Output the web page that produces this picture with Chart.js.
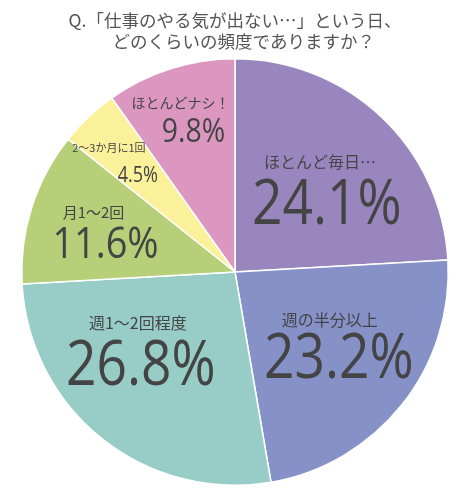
<!DOCTYPE html>
<html>
<head>
<meta charset="utf-8">
<script src="https://cdn.jsdelivr.net/npm/chart.js@4.4.1/dist/chart.umd.min.js"></script>
<style>
  html, body { margin: 0; padding: 0; background: #fff; }
  #wrap { width: 473px; height: 500px; }
</style>
</head>
<body>
<div id="wrap"><canvas id="myChart" width="473" height="500"></canvas></div>
<script>
// answers, clockwise from 12 o'clock
const categories = [
    'ほとんど毎日…',
    '週の半分以上',
    '週1～2回程度',
    '月1～2回',
    '2～3か月に1回',
    'ほとんどナシ！'
];
const shares = [24.1, 23.2, 26.8, 11.6, 4.5, 9.8];
const titleLines = ['Q.「仕事のやる気が出ない…」という日、', '　どのくらいの頻度でありますか？'];

const sliceColors = [
    '#9a86bf',  // purple
    '#8692c7',  // blue
    '#97ccc7',  // teal
    '#b6cf78',  // green
    '#fbf19b',  // yellow
    '#dc97c1'   // pink
];

// where each label sits inside its slice: angle shift (deg) from the slice middle,
// distance as a fraction of the radius, sizes of the two text lines,
// and how far the small caption is pulled left of the big number
const labelLayout = [
    { da: 11,  r: 0.53, name: 16, pct: 62, gap: 44, dx: -7 },
    { da: 2,   r: 0.64, name: 16, pct: 62, gap: 41, dx: -9 },
    { da: 6,   r: 0.63, name: 16, pct: 62, gap: 45, dx: -3 },
    { da: -6,  r: 0.62, name: 15, pct: 44, gap: 33, dx: -12 },
    { da: -2,  r: 0.64, name: 11, pct: 21, gap: 28, dx: -29 },
    { da: 1,   r: 0.68, name: 14, pct: 33, gap: 30, dx: -13 }
];

const sliceLabels = {
    id: 'sliceLabels',
    afterDatasetsDraw(chart) {
        const c = chart.ctx;
        const arcs = chart.getDatasetMeta(0).data;
        c.save();
        c.fillStyle = '#444444';
        c.textAlign = 'center';
        c.textBaseline = 'middle';
        arcs.forEach((arc, i) => {
            const lay = labelLayout[i];
            const mid = (arc.startAngle + arc.endAngle) / 2 + lay.da * Math.PI / 180;
            const x = arc.x + Math.cos(mid) * arc.outerRadius * lay.r;
            const y = arc.y + Math.sin(mid) * arc.outerRadius * lay.r;

            c.font = lay.name + 'px "Noto Sans CJK JP"';
            c.fillText(categories[i], x + lay.dx, y - lay.gap);

            c.save();
            c.translate(x, y);
            c.scale(0.86, 1);
            c.font = '500 ' + lay.pct + 'px "Open Sans"';
            c.fillText(shares[i].toFixed(1) + '%', 0, 0);
            c.restore();
        });
        c.restore();
    }
};

const ctx = document.getElementById('myChart');

const myChart = new Chart(ctx, {
    type: 'pie',
    data: {
        labels: categories,
        datasets: [{
            data: shares,
            backgroundColor: sliceColors,
            borderColor: '#ffffff',
            borderWidth: 1.5
        }]
    },
    options: {
        responsive: false,
        animation: false,
        layout: {
            padding: { left: 21, right: 24, bottom: 14, top: 0 }
        },
        plugins: {
            legend: { display: false },
            tooltip: { enabled: false },
            title: {
                display: true,
                text: titleLines,
                color: '#555555',
                font: { family: '"Noto Sans CJK JP"', size: 17.5, weight: 'normal', lineHeight: 1.2 },
                padding: { top: 9.5, bottom: 6.5 }
            }
        }
    },
    plugins: [sliceLabels]
});
</script>
</body>
</html>
